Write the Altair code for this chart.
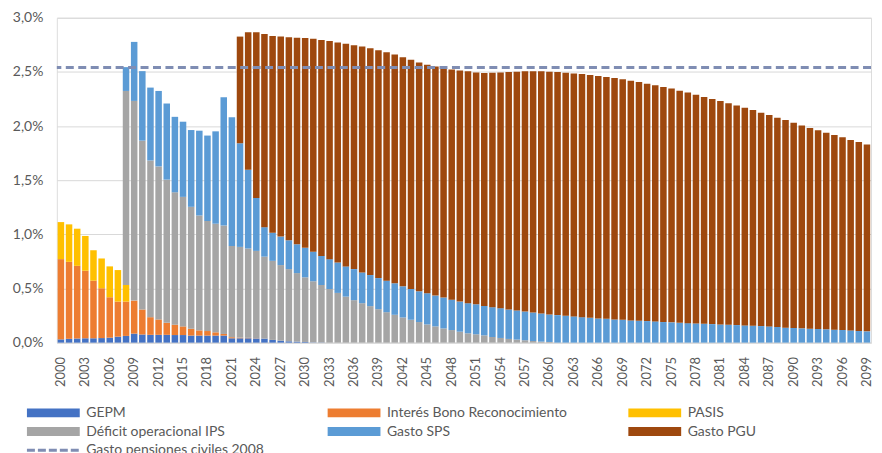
import altair as alt
import pandas as pd

# ---------------- data (values in % of GDP) ----------------
years = list(range(2000, 2100))
tick_years = years[::3]

series_names = ["GEPM", "Interés Bono Reconocimiento", "PASIS",
                "Déficit operacional IPS", "Gasto SPS", "Gasto PGU"]
series_colors = ["#4472C4", "#ED7D31", "#FFC000", "#A5A5A5", "#5B9BD5", "#9E480E"]

line_name = "Gasto pensiones civiles 2008"
line_value = [2.54]
line_color = "#7F8DB3"

gepm_start = 2000
gepm = [0.030, 0.035, 0.038, 0.040, 0.040, 0.042, 0.046, 0.055, 0.062, 0.083,
        0.075, 0.072, 0.072, 0.072, 0.070, 0.070, 0.065, 0.065, 0.065, 0.065,
        0.065, 0.040, 0.040, 0.040, 0.038, 0.037, 0.025, 0.018, 0.012, 0.009,
        0.006, 0.003, 0.002]

bono_start = 2000
bono = [0.741, 0.711, 0.671, 0.624, 0.532, 0.460, 0.373, 0.324, 0.317, 0.305,
        0.231, 0.163, 0.142, 0.111, 0.095, 0.080, 0.063, 0.048, 0.042, 0.030,
        0.015, 0.010, 0.006, 0.004, 0.002]

pasis_start = 2000
pasis = [0.342, 0.346, 0.343, 0.321, 0.281, 0.275, 0.285, 0.291, 0.153]

ips_start = 2008
ips = [1.792, 1.844, 1.559, 1.447, 1.413, 1.322, 1.223, 1.196, 1.126, 1.061,
       1.016, 1.003, 1.001, 0.843, 0.838, 0.825, 0.807, 0.757, 0.730, 0.698,
       0.667, 0.633, 0.597, 0.563, 0.530, 0.495, 0.459, 0.425, 0.392, 0.364,
       0.337, 0.309, 0.281, 0.257, 0.232, 0.211, 0.190, 0.168, 0.150, 0.131,
       0.116, 0.101, 0.086, 0.077, 0.067, 0.052, 0.043, 0.034, 0.028, 0.022,
       0.015, 0.009, 0.006]

sps_start = 2008
sps = [0.220, 0.545, 0.642, 0.673, 0.697, 0.703, 0.697, 0.694, 0.709, 0.783,
       0.789, 0.853, 1.184, 1.187, 0.957, 0.727, 0.489, 0.272, 0.260, 0.263,
       0.266, 0.266, 0.272, 0.272, 0.269, 0.276, 0.281, 0.279, 0.287, 0.284,
       0.287, 0.287, 0.291, 0.291, 0.288, 0.284, 0.284, 0.288, 0.284, 0.285,
       0.281, 0.278, 0.278, 0.277, 0.271, 0.275, 0.275, 0.272, 0.269, 0.265,
       0.263, 0.260, 0.254, 0.254, 0.248, 0.242, 0.235, 0.229, 0.223, 0.220,
       0.214, 0.211, 0.205, 0.202, 0.199, 0.196, 0.190, 0.187, 0.183, 0.180,
       0.177, 0.174, 0.171, 0.168, 0.165, 0.162, 0.159, 0.156, 0.153, 0.150,
       0.144, 0.138, 0.135, 0.132, 0.129, 0.126, 0.123, 0.120, 0.117, 0.113,
       0.107, 0.104]

pgu_start = 2022
pgu = [0.985, 1.269, 1.529, 1.783, 1.817, 1.847, 1.875, 1.908, 1.938, 1.969,
       1.994, 2.015, 2.031, 2.055, 2.067, 2.086, 2.095, 2.104, 2.110, 2.113,
       2.116, 2.117, 2.113, 2.110, 2.116, 2.119, 2.126, 2.135, 2.141, 2.141,
       2.151, 2.166, 2.177, 2.192, 2.204, 2.218, 2.227, 2.236, 2.241, 2.244,
       2.245, 2.244, 2.245, 2.242, 2.239, 2.233, 2.229, 2.220, 2.214, 2.205,
       2.192, 2.180, 2.171, 2.159, 2.144, 2.129, 2.113, 2.095, 2.079, 2.064,
       2.046, 2.028, 2.009, 1.991, 1.969, 1.951, 1.932, 1.917, 1.896, 1.874,
       1.853, 1.834, 1.816, 1.797, 1.779, 1.757, 1.745, 1.726]

# ---------------- tables ----------------
series_data = [
    ("GEPM", gepm_start, gepm),
    ("Interés Bono Reconocimiento", bono_start, bono),
    ("PASIS", pasis_start, pasis),
    ("Déficit operacional IPS", ips_start, ips),
    ("Gasto SPS", sps_start, sps),
    ("Gasto PGU", pgu_start, pgu),
]
rows = []
for name, start, vals in series_data:
    for i, v in enumerate(vals):
        rows.append({"year": start + i, "serie": name, "value": v,
                     "k": series_names.index(name)})
df = pd.DataFrame(rows)

legend_items = series_names + [line_name]
legend_df = pd.DataFrame({
    "name": legend_items,
    "col": [i % 3 for i in range(len(legend_items))],
    "row": [i // 3 for i in range(len(legend_items))],
    "kind": ["bar"] * len(series_names) + ["line"],
})

FONT = "Lato"
TXT = "#595959"
GRID = "#D9D9D9"

x_enc = alt.X("year:O",
              scale=alt.Scale(domain=years, paddingInner=0.2, paddingOuter=0.1),
              axis=alt.Axis(values=tick_years, labelAngle=270, labelFontSize=13,
                            labelColor=TXT, labelFont=FONT, labelPadding=14,
                            ticks=False, domainColor=GRID, grid=False,
                            labelOverlap=False),
              title=None)

y_scale = alt.Scale(domain=[0, 3], nice=False)

bars = alt.Chart(df).mark_bar().encode(
    x=x_enc,
    y=alt.Y("value:Q", stack="zero", scale=y_scale,
            axis=alt.Axis(values=[0, 0.5, 1.0, 1.5, 2.0, 2.5, 3.0],
                          labelExpr="replace(format(datum.value, '.1f'), '.', ',') + '%'",
                          labelFontSize=14, labelColor=TXT, labelFont=FONT,
                          labelPadding=14, ticks=False, domain=False,
                          gridColor=GRID, gridWidth=1,
                          minExtent=49, maxExtent=49),
            title=None),
    color=alt.Color("serie:N",
                    scale=alt.Scale(domain=series_names, range=series_colors),
                    legend=None),
    order=alt.Order("k:Q", sort="ascending"),
)

rule = alt.Chart(pd.DataFrame({"v": line_value})).mark_rule(
    color=line_color, strokeWidth=3, strokeDash=[8, 4.5]
).encode(y=alt.Y("v:Q", scale=y_scale))

main = alt.layer(bars, rule)

lx = alt.X("col:Q", scale=alt.Scale(domain=[0, 2], range=[-3.5, 600]), axis=None)
ly = alt.Y("row:Q", scale=alt.Scale(domain=[0, 2], range=[396.5, 434]), axis=None)

leg_sym = alt.Chart(legend_df).transform_filter(alt.datum.kind == "bar").mark_point(
    shape="M-1,-0.17H1V0.17H-1Z", size=2809, filled=True, opacity=1, strokeWidth=0
).encode(
    x=lx, y=ly,
    color=alt.Color("name:N",
                    scale=alt.Scale(domain=series_names, range=series_colors),
                    legend=None),
)

leg_line = alt.Chart(legend_df).transform_filter(alt.datum.kind == "line").mark_point(
    shape="M-1,0H1", size=2809, filled=False, stroke=line_color,
    strokeWidth=3, strokeDash=[8, 3], opacity=1
).encode(x=lx, y=ly)

leg_text = alt.Chart(legend_df).mark_text(
    align="left", baseline="middle", dx=33, fontSize=14, font=FONT, color=TXT
).encode(x=lx, y=ly, text="name:N")

legend = alt.layer(leg_sym, leg_line, leg_text)

chart = alt.layer(main, legend).resolve_scale(
    x="independent", y="independent"
).properties(
    width=817, height=326,
    padding={"left": 0, "top": 2, "right": 0, "bottom": 0},
    background="white",
).configure_view(stroke=None).configure(font=FONT)

chart.save("out.html", embed_options={"renderer": "svg", "actions": False})
